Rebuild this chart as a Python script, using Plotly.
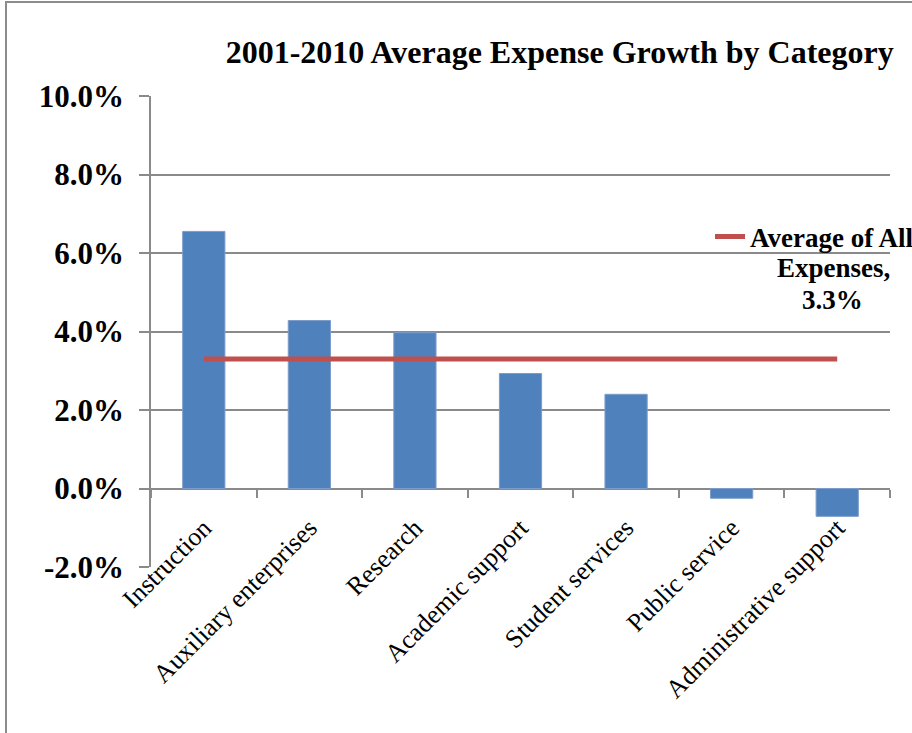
import plotly.graph_objects as go

# Average annual expense growth (%) per spending category, 2001-2010
categories = [
    "Instruction",
    "Auxiliary enterprises",
    "Research",
    "Academic support",
    "Student services",
    "Public service",
    "Administrative support",
]
growth_pct = [6.55, 4.28, 3.97, 2.93, 2.40, -0.25, -0.71]
average_all_pct = 3.3

y_ticks = [-2, 0, 2, 4, 6, 8, 10]
y_min, y_max = -2, 10

SERIF = "Liberation Serif, Times New Roman, serif"
GRID = "#8a8a8a"

fig = go.Figure()

fig.add_trace(go.Bar(
    x=categories,
    y=growth_pct,
    width=0.4,
    marker=dict(color="#4F81BD", line=dict(color="#7C9DCC", width=1)),
    showlegend=False,
    hoverinfo="x+y",
))

fig.add_trace(go.Scatter(
    x=categories,
    y=[average_all_pct] * len(categories),
    mode="lines",
    line=dict(color="#C0504D", width=5),
    name="<b>Average of All</b>",
    showlegend=True,
))

fig.update_layout(
    width=912,
    height=733,
    margin=dict(l=151, r=22, t=96, b=166, autoexpand=False),
    paper_bgcolor="white",
    plot_bgcolor="white",
    font=dict(family=SERIF, color="black"),
    title=dict(
        text="<b>2001-2010 Average Expense Growth by Category</b>",
        font=dict(family=SERIF, size=32, color="black"),
        xref="paper", x=0.553, xanchor="center",
        yref="container", y=1 - 52 / 733, yanchor="middle",
    ),
    legend=dict(
        x=(710 - 151) / 739, xanchor="left",
        y=(567 - 237) / 471, yanchor="middle",
        bgcolor="rgba(0,0,0,0)",
        font=dict(family=SERIF, size=27, color="black"),
        itemclick=False,
    ),
    showlegend=True,
    bargap=0.6,
)

# Category axis sits on the zero line, as in a spreadsheet chart
fig.update_xaxes(
    type="category",
    anchor="free",
    position=(0 - y_min) / (y_max - y_min),
    showgrid=False,
    showline=False,
    ticks="outside",
    tickson="boundaries",
    ticklen=8,
    tickcolor=GRID,
    tickwidth=1.5,
    tickangle=-45,
    ticklabelstandoff=18,
    tickfont=dict(family=SERIF, size=26, color="black"),
)

fig.update_yaxes(
    range=[y_min, y_max],
    tickvals=y_ticks,
    ticktext=[f"{v:.1f}%" for v in y_ticks],
    showgrid=True,
    gridcolor=GRID,
    gridwidth=1.5,
    zeroline=True,
    zerolinecolor=GRID,
    zerolinewidth=1.5,
    showline=True,
    linecolor=GRID,
    linewidth=1.5,
    ticks="outside",
    ticklen=10,
    tickcolor=GRID,
    tickwidth=1.5,
    ticklabelstandoff=9,
    tickfont=dict(family=SERIF, size=31, color="black", weight="bold"),
)

# Remaining lines of the average label, centred under the legend entry
fig.add_annotation(
    text="<b>Expenses,</b>",
    xref="paper", yref="paper",
    x=(833 - 151) / 739, y=(567 - 268) / 471,
    xanchor="center", yanchor="middle",
    showarrow=False,
    font=dict(family=SERIF, size=27, color="black"),
)
fig.add_annotation(
    text=f"<b>{average_all_pct:.1f}%</b>",
    xref="paper", yref="paper",
    x=(832 - 151) / 739, y=(567 - 300) / 471,
    xanchor="center", yanchor="middle",
    showarrow=False,
    font=dict(family=SERIF, size=27, color="black"),
)

# Chart frame (top and left edges visible)
fig.add_shape(
    type="rect",
    xref="paper", yref="paper",
    x0=(6 - 151) / 739, x1=(930 - 151) / 739,
    y0=(567 - 760) / 471, y1=(567 - 2) / 471,
    line=dict(color="#8c8c8c", width=2),
    fillcolor="rgba(0,0,0,0)",
    layer="below",
)

fig.write_html("out.html")
